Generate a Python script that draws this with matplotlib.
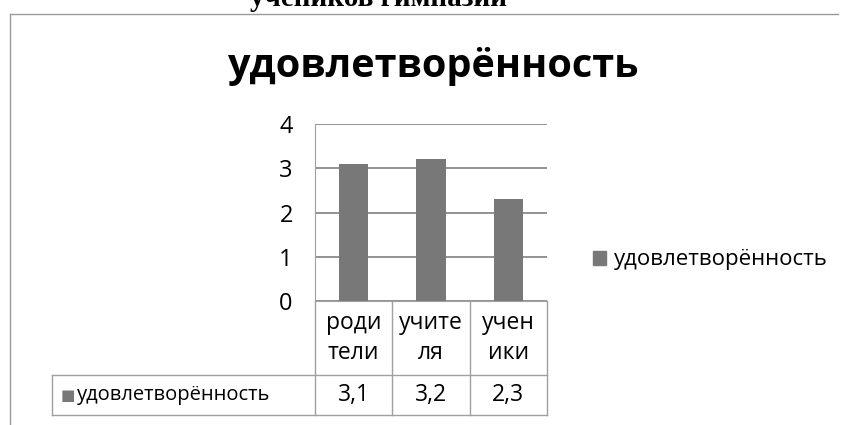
import matplotlib.pyplot as plt
from matplotlib.patches import Patch
from matplotlib.lines import Line2D

plt.rcParams['font.family'] = ['Open Sans', 'Noto Sans', 'DejaVu Sans']

# data
categories = ["роди\nтели", "учите\nля", "учен\nики"]
values = [3.1, 3.2, 2.3]
series_name = "удовлетворённость"
y_ticks = [0, 1, 2, 3, 4]

W, H = 847, 425
fig = plt.figure(figsize=(W / 100, H / 100), dpi=100)
fig.patch.set_facecolor('white')

def fx(px):
    return px / W

def fy(py):
    return 1 - py / H

# cut-off heading above the chart frame (only its lower part shows in the scan)
fig.text(fx(378), fy(6), "учеников гимназии", family='Liberation Serif',
         fontweight='bold', fontsize=21, ha='center', va='baseline')

# chart frame (top and left edges visible in the scan)
fig.add_artist(Line2D([fx(10), fx(838)], [fy(14), fy(14)], color='#9a9a9a', lw=1))
fig.add_artist(Line2D([fx(10), fx(10)], [fy(14), 0], color='#9a9a9a', lw=1))

fig.text(fx(434), fy(66), series_name, fontsize=28.5, fontweight='bold',
         ha='center', va='center')

# plot area
ax_l, ax_r, ax_t, ax_b = 315, 547, 124, 301
ax = fig.add_axes([fx(ax_l), fy(ax_b), fx(ax_r - ax_l), (ax_b - ax_t) / H])
x = list(range(len(values)))
ax.bar(x, values, width=0.38, color='#787878', zorder=3)
ax.set_xlim(-0.5, len(values) - 0.5)
ax.set_ylim(0, 4)
ax.set_yticks(y_ticks)
ax.set_yticklabels([str(t) for t in y_ticks], fontsize=17)
ax.tick_params(axis='y', length=0, pad=16)
ax.set_xticks([])
ax.grid(axis='y', color='#8a8a8a', lw=1.3, zorder=0)
for s in ['top', 'right']:
    ax.spines[s].set_visible(False)
ax.spines['left'].set_color('#a0a0a0')
ax.spines['bottom'].set_color('#a0a0a0')

# data table under the axis
ph = ax_b - ax_t
row1 = -(375 - ax_b) / ph
row2 = -(415 - ax_b) / ph
trans = ax.get_xaxis_transform()
grid_kw = dict(color='#a0a0a0', lw=1, clip_on=False)
for xe in [-0.5, 0.5, 1.5, 2.5]:
    ax.add_line(Line2D([xe, xe], [0, row2], transform=trans, **grid_kw))
left_col = (52 - ax_l) / (ax_r - ax_l)
ax.add_line(Line2D([left_col, 1], [row1, row1], transform=ax.transAxes, **grid_kw))
ax.add_line(Line2D([left_col, 1], [row2, row2], transform=ax.transAxes, **grid_kw))
ax.add_line(Line2D([left_col, left_col], [row1, row2], transform=ax.transAxes, **grid_kw))

for xi, cat, v in zip(x, categories, values):
    ax.text(xi, row1 / 2, cat, transform=trans, ha='center', va='center',
            fontsize=16.5, linespacing=1.3)
    ax.text(xi, (row1 + row2) / 2, f"{v:.1f}".replace('.', ','), transform=trans,
            ha='center', va='center', fontsize=16.5)

# row label with its key square
fig.text(fx(61), fy(396), "■", family='DejaVu Sans', color='#787878',
         fontsize=11, ha='left', va='center')
fig.text(fx(77), fy(395), series_name, fontsize=14.5, ha='left', va='center')

# legend
fig.legend(handles=[Patch(color='#787878', label=series_name)],
           loc='center left', bbox_to_anchor=(fx(582), fy(260)),
           frameon=False, fontsize=16, handlelength=0.6, handleheight=0.6,
           handletextpad=0.35, borderpad=0)

fig.savefig('out.png', dpi=100)
